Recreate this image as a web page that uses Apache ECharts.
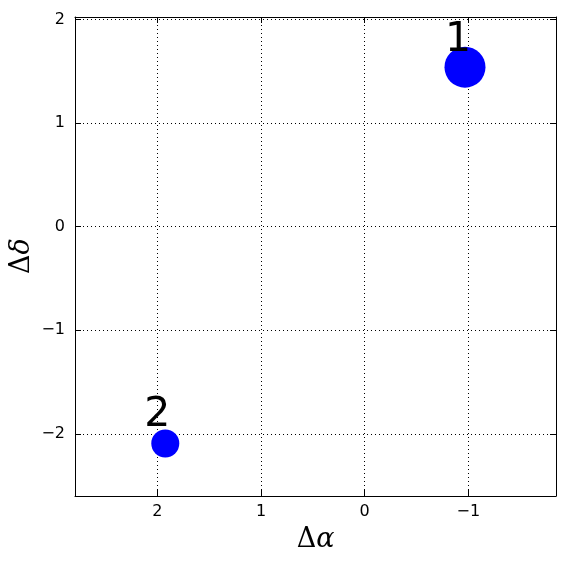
<!DOCTYPE html>
<html><head><meta charset="utf-8">
<script src="https://cdn.jsdelivr.net/npm/echarts@6/dist/echarts.min.js"></script>
<style>html,body{margin:0;padding:0;background:#fff}#c{width:565px;height:564px}</style>
</head><body><div id="c"></div>
<script>
const pointNames = ['1', '2'];
const dAlpha = [-0.968, 1.923];
const dDelta = [1.54, -2.093];
const markerSizes = [41, 28];
const xTicks = [-1, 0, 1, 2];
const yTicks = [-2, -1, 0, 1, 2];
const xRange = [-1.846, 2.794];
const yRange = [-2.60, 2.024];

const fmt = v => (v < 0 ? '\u2212' + Math.abs(v) : String(v));
const chart = echarts.init(document.getElementById('c'));
const gridLine = {show: true, lineStyle: {color: '#000', type: [1, 3], width: 1}};
const axisLine = {show: true, onZero: false, lineStyle: {color: '#000', width: 1}};
const tick = {show: true, inside: true, length: 6, lineStyle: {color: '#000'}};
function xAxis(pos, labels) {
  return {type: 'value', position: pos, inverse: true, min: xRange[0], max: xRange[1],
    axisLine: axisLine, axisTick: Object.assign({customValues: xTicks}, tick),
    axisLabel: {show: labels, customValues: xTicks, formatter: fmt, color: '#000', fontSize: 16, fontFamily: 'DejaVu Sans', margin: 8},
    splitLine: labels ? Object.assign({customValues: xTicks}, gridLine) : {show: false}};
}
function yAxis(pos, labels) {
  return {type: 'value', position: pos, min: yRange[0], max: yRange[1],
    axisLine: axisLine, axisTick: Object.assign({customValues: yTicks}, tick),
    axisLabel: {show: labels, customValues: yTicks, formatter: fmt, color: '#000', fontSize: 16, fontFamily: 'DejaVu Sans', margin: 10},
    splitLine: labels ? Object.assign({customValues: yTicks}, gridLine) : {show: false}};
}
const data = pointNames.map((n, i) => ({
  name: n, value: [dAlpha[i], dDelta[i]], symbolSize: markerSizes[i],
  label: {offset: i === 0 ? [-7, -27] : [-8, -28]}
}));
chart.setOption({
  animation: false,
  grid: {left: 75, right: 9, top: 17, bottom: 68, containLabel: false},
  xAxis: [xAxis('bottom', true), xAxis('top', false)],
  yAxis: [yAxis('left', true), yAxis('right', false)],
  graphic: [
    {type: 'text', x: 315.5, y: 540, style: {rich: {d: {fontFamily: 'DejaVu Serif', fontSize: 27, fill: '#000'}, a: {fontFamily: 'DejaVu Serif', fontStyle: 'italic', fontSize: 27, fill: '#000'}}, text: '{d|\u0394}{a|\u03b1}', align: 'center', verticalAlign: 'middle'}},
    {type: 'text', x: 22, y: 256, rotation: Math.PI / 2, style: {rich: {d: {fontFamily: 'DejaVu Serif', fontSize: 27, fill: '#000'}, a: {fontFamily: 'DejaVu Serif', fontStyle: 'italic', fontSize: 27, fill: '#000'}}, text: '{d|\u0394}{a|\u03b4}', align: 'center', verticalAlign: 'middle'}}
  ],
  series: [{
    type: 'scatter', xAxisIndex: 0, yAxisIndex: 0, data: data,
    itemStyle: {color: '#0000ff', opacity: 1},
    label: {show: true, position: 'inside', formatter: p => p.name, color: '#000', fontSize: 41, fontFamily: 'DejaVu Sans'}
  }]
});
</script></body></html>
